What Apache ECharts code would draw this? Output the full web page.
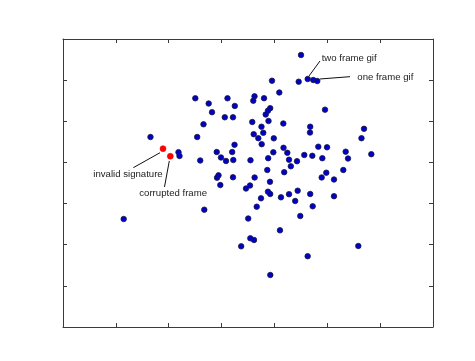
<!DOCTYPE html>
<html>
<head>
<meta charset="utf-8">
<script src="https://cdn.jsdelivr.net/npm/echarts@6/dist/echarts.min.js"></script>
<style>
html,body{margin:0;padding:0;background:#fff;}
#c{width:475px;height:361px;}
</style>
</head>
<body>
<div id="c"></div>
<script>
// Axis ranges / ticks (no tick labels in the reference)
const xTicks = [0, 1, 2, 3, 4, 5, 6, 7];
const yTicks = [0, 1, 2, 3, 4, 5, 6, 7];

// Blue points [x, y]
const bluePoints = [
  [4.503,6.611],[4.629,6.028],[4.735,6.003],[4.811,5.979],[4.459,5.962],
  [3.954,5.986],[4.092,5.700],[3.623,5.607],[3.600,5.500],[3.803,5.561],
  [3.920,5.318],[3.878,5.257],[3.835,5.165],[4.957,5.282],[2.503,5.559],
  [2.756,5.432],[3.112,5.559],[3.250,5.372],[2.819,5.221],[3.061,5.097],
  [3.216,5.097],[2.658,4.927],[1.655,4.618],[2.539,4.618],[3.245,4.428],
  [2.185,4.249],[2.204,4.156],[2.596,4.047],[2.908,4.253],[3.201,4.253],
  [2.989,4.120],[3.084,4.035],[3.222,4.059],[2.914,3.629],[2.942,3.687],
  [3.216,3.639],[3.581,4.983],[3.888,5.007],[4.168,4.946],[3.755,4.868],
  [3.608,4.686],[3.695,4.589],[3.789,4.720],[3.988,4.586],[3.759,4.443],
  [4.677,4.868],[4.673,4.727],[5.695,4.817],[5.647,4.589],[4.172,4.356],
  [4.244,4.234],[3.979,4.246],[4.830,4.382],[4.995,4.368],[4.565,4.181],
  [4.717,4.161],[4.906,4.103],[5.348,4.261],[5.392,4.095],[5.833,4.200],
  [3.547,4.054],[3.882,4.103],[4.276,4.066],[4.427,4.030],[4.310,3.906],
  [3.865,3.816],[4.185,3.763],[3.625,3.634],[4.894,3.634],[4.981,3.750],
  [5.127,3.585],[5.303,3.816],[3.462,3.366],[3.538,3.439],[3.916,3.529],
  [3.878,3.289],[3.920,3.233],[3.746,3.128],[4.124,3.152],[4.276,3.228],
  [4.440,3.313],[4.677,3.233],[4.393,3.063],[4.724,2.934],[5.127,3.179],
  [3.665,2.924],[4.489,2.698],[3.504,2.637],[4.105,2.350],[3.544,2.156],
  [3.614,2.115],[3.371,1.961],[5.587,1.969],[4.629,1.721],[3.922,1.264],
  [2.976,3.451],[2.673,2.851],[1.148,2.625]
];

// Red (flagged) points [x, y]
const redPoints = [[1.892,4.334],[2.030,4.151]];

// Annotations: text, text anchor [x,y], line start [x,y], line end [x,y], alignment
const annTexts  = ['two frame gif', 'one frame gif', 'invalid signature', 'corrupted frame'];
const annAnchor = [[4.894,6.531],[5.568,6.059],[1.886,3.711],[1.443,3.240]];
const annFrom   = [[4.654,6.101],[4.862,6.028],[1.835,4.236],[2.011,4.035]];
const annTo     = [[4.862,6.465],[5.430,6.084],[1.330,3.872],[1.920,3.403]];
const annAlign  = ['left','left','right','left'];

const axisColor = '#3a3a3a';
function xAxis(pos){
  return {type:'value', position:pos, min:xTicks[0], max:xTicks[xTicks.length-1], interval:1,
    axisLine:{show:true, onZero:false, lineStyle:{color:axisColor,width:1}},
    axisTick:{show:true, inside:true, length:4, lineStyle:{color:axisColor}},
    axisLabel:{show:false}, splitLine:{show:false}};
}
function yAxis(pos){
  return {type:'value', position:pos, min:yTicks[0], max:yTicks[yTicks.length-1], interval:1,
    axisLine:{show:true, onZero:false, lineStyle:{color:axisColor,width:1}},
    axisTick:{show:true, inside:true, length:4, lineStyle:{color:axisColor}},
    axisLabel:{show:false}, splitLine:{show:false}};
}

const chart = echarts.init(document.getElementById('c'), null, {renderer:'canvas'});
const textStyleBase = {fontFamily:'Liberation Sans, Arial, sans-serif', fontSize:9.6, color:'#222'};

chart.setOption({
  animation:false,
  backgroundColor:'#fff',
  grid:{left:63, top:39, width:370, height:288},
  xAxis:[xAxis('bottom'), xAxis('top')],
  yAxis:[yAxis('left'), yAxis('right')],
  series:[
    {
      type:'scatter', xAxisIndex:0, yAxisIndex:0, silent:true, z:3,
      data: bluePoints, symbol:'circle', symbolSize:5.5,
      itemStyle:{color:'#0000c8', borderColor:'#1a1a40', borderWidth:0.8, opacity:1},
      markLine:{
        silent:true, symbol:['none','none'], animation:false,
        lineStyle:{color:'#111', width:1, type:'solid'},
        label:{show:false},
        data: annFrom.map((f,i)=>[{coord:f},{coord:annTo[i]}])
      },
      markPoint:{
        silent:true, symbol:'circle', symbolSize:0, animation:false,
        data: annTexts.map((t,i)=>({
          coord: annAnchor[i], value:t,
          label:{show:true, formatter:t, position: annAlign[i]==='left' ? 'right' : 'left', distance:0,
                 ...textStyleBase}
        }))
      }
    },
    {
      type:'scatter', xAxisIndex:0, yAxisIndex:0, silent:true, z:4,
      data: redPoints, symbol:'circle', symbolSize:6,
      itemStyle:{color:'#ff0000', borderColor:'#e00000', borderWidth:0.5, opacity:1}
    }
  ]
});
</script>
</body>
</html>
